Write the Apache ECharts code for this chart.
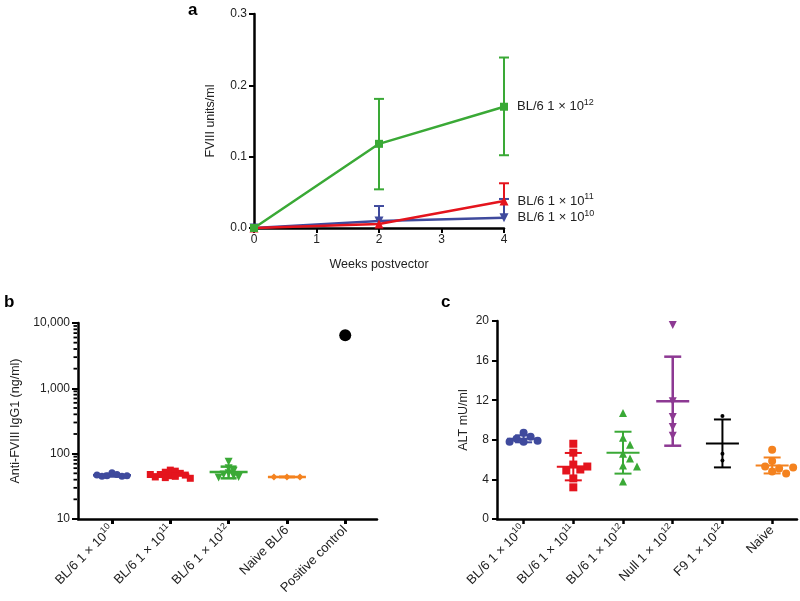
<!DOCTYPE html>
<html><head><meta charset="utf-8">
<script src="https://cdn.jsdelivr.net/npm/echarts@6/dist/echarts.min.js"></script>
<style>html,body{margin:0;padding:0;background:#fff}#c{width:800px;height:601px}</style>
</head><body><div id="c"></div>
<script>
// ---------- Panel a: FVIII units/ml vs weeks ----------
const weeks = [0, 2, 4];
const fviii1e10 = [0, 0.0098, 0.0145];
const fviii1e10Upper = [null, 0.0308, 0.0407];
const fviii1e11 = [0, 0.0056, 0.0379];
const fviii1e11Upper = [null, null, 0.0627];
const fviii1e12 = [0, 0.118, 0.170];
const fviii1e12Lower = [null, 0.0542, 0.102];
const fviii1e12Upper = [null, 0.181, 0.239];
const seriesNamesA = ['BL/6 1 × 10^10', 'BL/6 1 × 10^11', 'BL/6 1 × 10^12'];

// ---------- Panel b: Anti-FVIII IgG1 (ng/ml) ----------
const igg1Groups = ['BL/6 1 × 10^10', 'BL/6 1 × 10^11', 'BL/6 1 × 10^12', 'Naive BL/6', 'Positive control'];
const igg1_1e10 = [51, 48, 46, 45, 45, 46, 47];
const igg1_1e11 = [56, 54, 52, 50, 48, 47, 46, 45, 44, 43, 42, 48];
const igg1_1e12 = [75, 60, 55, 50, 48, 46, 44, 43];
const igg1Naive = [44, 44, 44];
const igg1Positive = [6500];

// ---------- Panel c: ALT mU/ml ----------
const altGroups = ['BL/6 1 × 10^10', 'BL/6 1 × 10^11', 'BL/6 1 × 10^12', 'Null 1 × 10^12', 'F9 1 × 10^12', 'Naive'];
const alt_1e10 = [8.7, 7.8, 7.9, 7.8, 8.1, 8.3];
const alt_1e11 = [7.6, 6.7, 5.5, 5.3, 5.0, 4.9, 4.1, 3.2];
const alt_1e12 = [10.7, 8.2, 7.5, 6.6, 6.1, 5.4, 5.3, 3.8];
const altNull = [19.6, 11.9, 10.3, 9.3, 8.4];
const altF9 = [10.4, 6.6, 5.9];
const altNaive = [7.0, 5.85, 5.1, 5.3, 5.2, 4.8, 4.6];

// ---------- styling ----------
const COL = { blue: '#3f4a9d', red: '#e4141d', green: '#3aa936', orange: '#f4821f', purple: '#8d3993', black: '#000000' };
const FONT = 'Liberation Sans, Arial, Helvetica, sans-serif';
const TXT = '#222';
const rich = {
  n: { fontSize: 13, color: TXT, fontFamily: FONT },
  s: { fontSize: 9, color: TXT, fontFamily: FONT, padding: [0, 0, 9, 0] }
};
function supText(str) {
  const p = str.split('^');
  return p.length > 1 ? `{n|${p[0]}}{s|${p[1]}}` : `{n|${p[0]}}`;
}
const mean = a => a.reduce((s, v) => s + v, 0) / a.length;
const sd = a => { if (a.length < 2) return 0; const m = mean(a); return Math.sqrt(a.reduce((s, v) => s + (v - m) * (v - m), 0) / (a.length - 1)); };

// simple beeswarm: horizontal offsets (in category units) so markers don't overlap
function swarm(vals, toPx, catPx, r, step) {
  const placed = [], out = [];
  vals.forEach(v => {
    const py = toPx(v);
    let off = 0;
    for (let i = 0; i < 60; i++) {
      off = (i === 0 ? 0 : (i % 2 ? 1 : -1) * Math.ceil(i / 2)) * step;
      if (placed.every(p => Math.hypot(p[0] - off, p[1] - py) >= r)) break;
    }
    placed.push([off, py]);
    out.push(off / catPx);
  });
  return out;
}

// layout constants
const GA = { left: 254, top: 14, width: 250, height: 214 };
const GB = { left: 78, top: 323, width: 299, height: 196 };
const GC = { left: 497, top: 321, width: 300, height: 198 };
const bMin = -0.583, bMax = 4.545;
const cMin = -0.535, cMax = 5.5;
const bCatPx = GB.width / (bMax - bMin);
const cCatPx = GC.width / (cMax - cMin);
const bToPx = v => Math.log10(v) * GB.height / 3;
const cToPx = v => v * GC.height / 20;

const axisLineStyle = { onZero: false, lineStyle: { color: '#000', width: 2.5 } };
const yAxisLineStyle = { show: true, onZero: false, lineStyle: { color: '#000', width: 2.5 } };
const axisTickStyle = { length: 5, lineStyle: { color: '#000', width: 2 } };
const labelStyle = { color: TXT, fontSize: 12, fontFamily: FONT };
const nameStyle = { color: TXT, fontSize: 12.5, fontFamily: FONT };

// ---------- panel a series ----------
const aVals = [fviii1e10, fviii1e11, fviii1e12];
const aColors = [COL.blue, COL.red, COL.green];
const aSymbols = ['triangle', 'triangle', 'rect'];
const aRot = [180, 0, 0];
const aSizes = [9, 9, 8];
const aLower = [[null, null, null], [null, null, null], fviii1e12Lower];
const aUpper = [fviii1e10Upper, fviii1e11Upper, fviii1e12Upper];
const errData = [];
aVals.forEach((vals, s) => {
  weeks.forEach((w, i) => {
    if (aUpper[s][i] != null || aLower[s][i] != null) {
      errData.push([w, aLower[s][i] != null ? aLower[s][i] : vals[i], aUpper[s][i] != null ? aUpper[s][i] : vals[i], s]);
    }
  });
});

const series = [];
series.push({
  type: 'custom', xAxisIndex: 0, yAxisIndex: 0, z: 1, silent: true,
  data: errData,
  renderItem: (params, api) => {
    const x = api.value(0), lo = api.value(1), hi = api.value(2), c = aColors[api.value(3)];
    const pLo = api.coord([x, lo]), pHi = api.coord([x, hi]);
    const st = { stroke: c, lineWidth: 2 };
    const ch = [{ type: 'line', shape: { x1: pLo[0], y1: pLo[1], x2: pHi[0], y2: pHi[1] }, style: st },
                { type: 'line', shape: { x1: pHi[0] - 5, y1: pHi[1], x2: pHi[0] + 5, y2: pHi[1] }, style: st }];
    if (api.value(3) === 2) ch.push({ type: 'line', shape: { x1: pLo[0] - 5, y1: pLo[1], x2: pLo[0] + 5, y2: pLo[1] }, style: st });
    return { type: 'group', children: ch };
  }
});
aVals.forEach((vals, s) => {
  series.push({
    type: 'line', xAxisIndex: 0, yAxisIndex: 0, z: 3 + s,
    symbol: aSymbols[s], symbolRotate: aRot[s], symbolSize: aSizes[s], showAllSymbol: true,
    lineStyle: { color: aColors[s], width: 2.5 }, itemStyle: { color: aColors[s], opacity: 1 },
    data: weeks.map((w, i) => i === weeks.length - 1
      ? { value: [w, vals[i]], label: { show: true, position: 'right', distance: 9, formatter: supText(seriesNamesA[s]), rich } }
      : [w, vals[i]]),
    animation: false
  });
});

// ---------- panel b series ----------
const bSets = [igg1_1e10, igg1_1e11, igg1_1e12, igg1Naive, igg1Positive];
const bColors = [COL.blue, COL.red, COL.green, COL.orange, COL.black];
const bSymbols = ['circle', 'rect', 'triangle', 'diamond', 'circle'];
const bRot = [0, 0, 180, 0, 0];
const bSizes = [7, 7, 8, 7, 12];
series.push({
  type: 'custom', xAxisIndex: 1, yAxisIndex: 1, z: 1, silent: true,
  data: bSets.slice(0, 4).map((a, i) => [i, mean(a), Math.max(mean(a) - sd(a), 1), mean(a) + sd(a)]),
  renderItem: (params, api) => {
    const x = api.value(0), c = bColors[params.dataIndex];
    const pm = api.coord([x, api.value(1)]), pl = api.coord([x, api.value(2)]), ph = api.coord([x, api.value(3)]);
    const st = { stroke: c, lineWidth: 2.5 };
    return { type: 'group', children: [
      { type: 'line', shape: { x1: pm[0] - 19, y1: pm[1], x2: pm[0] + 19, y2: pm[1] }, style: st },
      { type: 'line', shape: { x1: pl[0], y1: pl[1], x2: ph[0], y2: ph[1] }, style: st },
      { type: 'line', shape: { x1: ph[0] - 8, y1: ph[1], x2: ph[0] + 8, y2: ph[1] }, style: st },
      { type: 'line', shape: { x1: pl[0] - 8, y1: pl[1], x2: pl[0] + 8, y2: pl[1] }, style: st }
    ] };
  }
});
bSets.forEach((a, g) => {
  const offs = g === 3 ? a.map((v, k) => (k - (a.length - 1) / 2) * 13 / bCatPx) : swarm(a, bToPx, bCatPx, 5, 5);
  series.push({
    type: 'scatter', xAxisIndex: 1, yAxisIndex: 1, z: 3,
    symbol: bSymbols[g], symbolRotate: bRot[g], symbolSize: bSizes[g],
    itemStyle: { color: bColors[g], opacity: 1 },
    data: a.map((v, k) => [g + offs[k], v])
  });
});
// minor ticks on the log axis
const minorVals = [];
[10, 100, 1000].forEach(d => { for (let m = 2; m <= 9; m++) minorVals.push(m * d); });
series.push({
  type: 'custom', xAxisIndex: 1, yAxisIndex: 1, silent: true, clip: false, z: 5,
  data: minorVals.map(v => [bMin, v]),
  renderItem: (params, api) => {
    const p = api.coord([api.value(0), api.value(1)]);
    return { type: 'line', shape: { x1: p[0] - 1, y1: p[1], x2: p[0] - 4.5, y2: p[1] }, style: { stroke: '#000', lineWidth: 1.8 } };
  }
});

// ---------- panel c series ----------
const cSets = [alt_1e10, alt_1e11, alt_1e12, altNull, altF9, altNaive];
const cColors = [COL.blue, COL.red, COL.green, COL.purple, COL.black, COL.orange];
const cSymbols = ['circle', 'rect', 'triangle', 'triangle', 'circle', 'circle'];
const cRot = [0, 0, 0, 180, 0, 0];
const cSizes = [8, 8, 8, 8, 4, 8];
series.push({
  type: 'custom', xAxisIndex: 2, yAxisIndex: 2, z: 1, silent: true,
  data: cSets.map((a, i) => [i, mean(a), mean(a) - sd(a), mean(a) + sd(a)]),
  renderItem: (params, api) => {
    const x = api.value(0), c = cColors[params.dataIndex];
    const pm = api.coord([x, api.value(1)]), pl = api.coord([x, api.value(2)]), ph = api.coord([x, api.value(3)]);
    const st = { stroke: c, lineWidth: params.dataIndex === 3 ? 2.5 : 2 };
    return { type: 'group', children: [
      { type: 'line', shape: { x1: pm[0] - 16.5, y1: pm[1], x2: pm[0] + 16.5, y2: pm[1] }, style: st },
      { type: 'line', shape: { x1: pl[0], y1: pl[1], x2: ph[0], y2: ph[1] }, style: st },
      { type: 'line', shape: { x1: ph[0] - 8.5, y1: ph[1], x2: ph[0] + 8.5, y2: ph[1] }, style: st },
      { type: 'line', shape: { x1: pl[0] - 8.5, y1: pl[1], x2: pl[0] + 8.5, y2: pl[1] }, style: st }
    ] };
  }
});
cSets.forEach((a, g) => {
  const offs = g === 3 || g === 4 ? a.map(() => 0) : swarm(a, cToPx, cCatPx, 7.5, 7);
  series.push({
    type: 'scatter', xAxisIndex: 2, yAxisIndex: 2, z: 3,
    symbol: cSymbols[g], symbolRotate: cRot[g], symbolSize: cSizes[g],
    itemStyle: { color: cColors[g], opacity: 1 },
    data: a.map((v, k) => [g + offs[k], v])
  });
});

const option = {
  animation: false,
  backgroundColor: '#fff',
  textStyle: { fontFamily: FONT },
  grid: [GA, GB, GC],
  xAxis: [
    { type: 'value', gridIndex: 0, min: 0, max: 4, interval: 1,
      axisLine: axisLineStyle, axisTick: axisTickStyle, splitLine: { show: false },
      axisLabel: Object.assign({ margin: 6 }, labelStyle),
      name: 'Weeks postvector', nameLocation: 'middle', nameGap: 30, nameTextStyle: nameStyle },
    { type: 'value', gridIndex: 1, min: bMin, max: bMax,
      axisLine: axisLineStyle, splitLine: { show: false },
      axisTick: { length: 5, lineStyle: { color: '#000', width: 3 }, customValues: [0, 1, 2, 3, 4] },
      axisLabel: { customValues: [0, 1, 2, 3, 4], rotate: 45, margin: 9, formatter: v => supText(igg1Groups[Math.round(v)]), rich } },
    { type: 'value', gridIndex: 2, min: cMin, max: cMax,
      axisLine: axisLineStyle, splitLine: { show: false },
      axisTick: { length: 5, lineStyle: { color: '#000', width: 2.5 }, customValues: [0, 1, 2, 3, 4, 5] },
      axisLabel: { customValues: [0, 1, 2, 3, 4, 5], rotate: 45, margin: 9, formatter: v => supText(altGroups[Math.round(v)]), rich } }
  ],
  yAxis: [
    { type: 'value', gridIndex: 0, min: 0, max: 0.3, interval: 0.1,
      axisLine: yAxisLineStyle, axisTick: { show: true, length: 5, lineStyle: { color: '#000', width: 2 } },
      splitLine: { show: false },
      axisLabel: Object.assign({ margin: 7, formatter: v => v.toFixed(1) }, labelStyle),
      name: 'FVIII units/ml', nameLocation: 'middle', nameGap: 37, nameTextStyle: nameStyle },
    { type: 'log', gridIndex: 1, min: 10, max: 10000, logBase: 10,
      axisLine: yAxisLineStyle, axisTick: { show: true, length: 6, lineStyle: { color: '#000', width: 2 } },
      splitLine: { show: false },
      axisLabel: Object.assign({ margin: 8, formatter: v => Math.round(v).toLocaleString('en-US') }, labelStyle),
      name: 'Anti-FVIII IgG1 (ng/ml)', nameLocation: 'middle', nameGap: 56, nameTextStyle: nameStyle },
    { type: 'value', gridIndex: 2, min: 0, max: 20, interval: 4,
      axisLine: yAxisLineStyle, axisTick: { show: true, length: 5, lineStyle: { color: '#000', width: 2 } },
      splitLine: { show: false },
      axisLabel: Object.assign({ margin: 8 }, labelStyle),
      name: 'ALT mU/ml', nameLocation: 'middle', nameGap: 27, nameTextStyle: nameStyle }
  ],
  graphic: [
    { type: 'text', left: 188, top: 2, style: { text: 'a', font: 'bold 17px ' + FONT, fill: '#000' } },
    { type: 'text', left: 4, top: 294, style: { text: 'b', font: 'bold 17px ' + FONT, fill: '#000' } },
    { type: 'text', left: 441, top: 294, style: { text: 'c', font: 'bold 17px ' + FONT, fill: '#000' } }
  ],
  series
};
const chart = echarts.init(document.getElementById('c'));
chart.setOption(option);
</script>
</body></html>
